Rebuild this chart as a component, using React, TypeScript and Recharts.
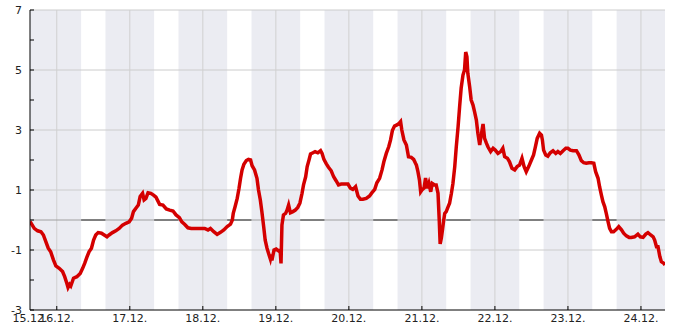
import React from 'react';
import { LineChart, Line, XAxis, YAxis, ReferenceArea, ReferenceLine } from 'recharts';

// hours since 15.12. 00:00
const hours = [
  15.2, 16.6, 17.7, 18.8, 19.6, 20.4, 21.2, 22.0, 22.9, 23.7, 24.8, 25.9, 26.6, 27.3, 27.7, 28.2, 28.6, 29.5,
  30.6, 31.7, 32.5, 33.2, 33.9, 34.6, 35.4, 36.1, 36.8, 37.6, 38.7, 39.6, 40.5, 41.2, 42.3, 43.4, 44.5, 45.6,
  46.7, 47.8, 48.6, 49.2, 50.0, 50.8, 51.4, 52.2, 52.7, 53.3, 54.0, 54.9, 55.8, 56.6, 57.8, 58.9, 60.0, 61.1,
  62.2, 63.2, 64.3, 65.1, 66.0, 67.1, 68.2, 69.3, 70.9, 72.6, 73.7, 74.5, 75.6, 76.7, 77.8, 78.9, 80.0, 81.1,
  81.7, 82.0, 82.6, 83.3, 83.9, 84.4, 84.9, 85.5, 86.3, 87.0, 87.7, 88.2, 89.0, 89.8, 90.3, 90.9, 91.4, 92.0,
  92.5, 93.1, 93.6, 94.2, 94.5, 94.7, 95.4, 96.1, 96.9, 97.4, 97.7, 98.0, 98.5, 99.2, 99.7, 100.2, 100.8,
  101.6, 102.4, 103.2, 103.9, 104.6, 105.1, 105.8, 106.3, 106.9, 107.4, 108.2, 108.9, 109.8, 110.7, 111.2,
  111.8, 112.6, 113.3, 114.2, 115.0, 115.8, 116.6, 117.5, 118.6, 119.7, 120.5, 121.3, 122.2, 123.0, 123.8,
  124.6, 125.7, 126.8, 127.6, 128.5, 129.2, 130.1, 130.9, 131.5, 132.3, 133.1, 133.7, 134.3, 135.0, 135.8,
  136.5, 137.0, 137.4, 138.1, 138.9, 139.6, 140.5, 141.3, 141.9, 142.2, 142.7, 143.2, 143.6, 144.0, 144.7,
  145.2, 145.8, 146.3, 146.9, 147.4, 148.2, 148.7, 149.3, 149.7, 150.0, 150.4, 150.8, 151.1, 151.5, 152.0,
  152.6, 153.1, 153.7, 154.2, 154.8, 155.3, 155.9, 156.4, 156.9, 157.5, 158.0, 158.4, 158.8, 159.1, 159.7,
  160.2, 160.8, 161.3, 161.9, 162.4, 163.0, 163.5, 164.1, 164.6, 165.2, 165.7, 166.6, 167.4, 168.1, 169.0,
  169.9, 170.6, 171.2, 172.1, 172.8, 173.6, 174.5, 175.3, 176.1, 176.9, 177.6, 178.3, 179.1, 180.0, 180.7,
  181.3, 181.9, 182.7, 183.3, 183.6, 184.0, 184.7, 185.4, 186.2, 187.1, 188.0, 188.7, 189.5, 190.4, 191.3,
  192.0, 192.8, 193.7, 194.8, 195.6, 196.4, 197.2, 198.0, 198.9, 199.7, 200.5, 201.1, 201.9, 202.4, 203.0,
  203.5, 204.1, 204.6, 205.2, 205.7, 206.3, 207.0, 207.9, 208.7, 209.6, 210.3, 211.2, 212.1, 212.8, 213.9,
  215.0, 215.8, 216.7, 217.6, 218.3, 219.2, 220.0, 220.5, 221.1, 221.6, 222.2, 222.7, 223.5, 223.9,
];

const values = [
  -0.05, -0.28, -0.36, -0.39, -0.5, -0.72, -0.94, -1.06, -1.33, -1.53, -1.61, -1.72, -1.89, -2.11, -2.25, -2.15, -2.2, -1.94,
  -1.89, -1.78, -1.61, -1.44, -1.24, -1.06, -0.94, -0.67, -0.5, -0.42, -0.44, -0.5, -0.56, -0.5, -0.42, -0.36, -0.28, -0.17,
  -0.11, -0.06, 0.06, 0.28, 0.39, 0.5, 0.78, 0.89, 0.67, 0.72, 0.91, 0.89, 0.83, 0.76, 0.52, 0.5, 0.37, 0.33,
  0.3, 0.17, 0.08, -0.06, -0.14, -0.26, -0.28, -0.28, -0.28, -0.28, -0.33, -0.28, -0.39, -0.48, -0.41, -0.33, -0.22, -0.14,
  0.0, 0.22, 0.44, 0.72, 1.06, 1.39, 1.67, 1.86, 1.98, 2.02, 2.0, 1.81, 1.67, 1.39, 1.0, 0.67, 0.28, -0.22,
  -0.67, -0.94, -1.11, -1.3, -1.15, -1.35, -1.0, -0.97, -1.03, -1.0, -1.45, -0.17, 0.17, 0.22, 0.33, 0.5, 0.24,
  0.28, 0.33, 0.42, 0.56, 0.89, 1.17, 1.44, 1.78, 2.0, 2.2, 2.24, 2.28, 2.24, 2.31, 2.22,
  2.02, 1.87, 1.76, 1.64, 1.44, 1.31, 1.17, 1.2, 1.2, 1.2, 1.06, 1.02, 1.11, 0.8, 0.69,
  0.69, 0.72, 0.8, 0.91, 1.02, 1.24, 1.39, 1.67, 1.94, 2.22, 2.44, 2.67, 2.98, 3.13, 3.17,
  3.22, 3.28, 3.0, 2.67, 2.5, 2.11, 2.09, 2.02, 1.89, 1.83, 1.61, 1.33, 0.94, 1.0, 1.06,
  1.4, 1.06, 1.22, 0.94, 1.22, 1.17, 1.17, 0.89, 0.0, -0.8, -0.6, -0.3, -0.06, 0.22, 0.28,
  0.44, 0.56, 0.89, 1.22, 1.78, 2.44, 3.11, 3.78, 4.39, 4.83, 5.0, 5.6, 5.44, 4.89, 4.44,
  4.0, 3.83, 3.61, 3.33, 2.89, 2.5, 2.83, 3.2, 2.72, 2.56, 2.44, 2.28, 2.39, 2.33, 2.22,
  2.28, 2.39, 2.11, 2.06, 1.94, 1.72, 1.67, 1.78, 1.83, 2.06, 1.78, 1.61, 1.78, 2.0, 2.17,
  2.44, 2.72, 2.89, 2.83, 2.67, 2.33, 2.17, 2.13, 2.24, 2.31, 2.22, 2.28, 2.22, 2.31, 2.39,
  2.39, 2.33, 2.31, 2.31, 2.17, 1.98, 1.91, 1.89, 1.91, 1.91, 1.89, 1.61, 1.39, 1.11, 0.83,
  0.61, 0.44, 0.22, -0.06, -0.28, -0.39, -0.39, -0.31, -0.22, -0.33, -0.44, -0.53, -0.58, -0.58, -0.56,
  -0.47, -0.56, -0.58, -0.47, -0.42, -0.5, -0.56, -0.67, -0.89, -0.89, -1.22, -1.39, -1.44, -1.5,
];

// shaded periods 16:00 - 08:00
const nightStarts = [15.2, 40, 64, 88, 112, 136, 160, 184, 208];
const nightEnds = [32, 56, 80, 104, 128, 152, 176, 200, 223.9];

const dayTicks = [15.2, 24, 48, 72, 96, 120, 144, 168, 192, 216];
const dayLines = [24, 48, 72, 96, 120, 144, 168, 192, 216];
const valueTicks = [-3, -2, -1, 0, 1, 2, 3, 4, 5, 6, 7];
const valueLines = [7, 5, 3, 1, -1];

const data = hours.map((h, i) => ({ h, v: values[i] }));

const font = { fontFamily: 'DejaVu Sans', fontSize: 11, fill: '#222' };

const dateLabel = (h: number) => `${15 + Math.floor(h / 24)}.12.`;

const YTick = (props: any) => {
  const { x, y, payload } = props;
  const v = payload.value;
  return (
    <g>
      <line x1={x} x2={x + 4} y1={y} y2={y} stroke='#000' />
      {Math.abs(v) % 2 === 1 && (
        <text x={x - 8} y={y} dy={4} textAnchor='end' {...font}>
          {v}
        </text>
      )}
    </g>
  );
};

const XTick = (props: any) => {
  const { x, y, payload, index } = props;
  return (
    <g>
      {index > 0 && <line x1={x} x2={x} y1={y} y2={y - 4} stroke='#000' />}
      <text x={x} y={y} dy={12} textAnchor='middle' {...font}>
        {dateLabel(payload.value)}
      </text>
    </g>
  );
};

export default function App() {
  return (
    <div style={{ position: 'absolute', left: 0, top: 0 }}>
      <LineChart
        width={685}
        height={330}
        data={data}
        margin={{ top: 10, right: 20, bottom: 0, left: 0 }}
      >
        {nightStarts.map((s, i) => (
          <ReferenceArea
            key={'n' + i}
            x1={s}
            x2={nightEnds[i]}
            y1={-3}
            y2={7}
            fill='#ebecf2'
            fillOpacity={1}
            stroke='none'
          />
        ))}
        {valueLines.map((v) => (
          <ReferenceLine key={'gy' + v} y={v} stroke='#cccccc' />
        ))}
        {dayLines.map((d) => (
          <ReferenceLine key={'gx' + d} x={d} stroke='#d0d0d0' />
        ))}
        {nightStarts.map((s, i) => (
          <ReferenceLine
            key={'zg' + i}
            segment={[{ x: s, y: 0 }, { x: nightEnds[i], y: 0 }]}
            stroke='#a0a0a0'
          />
        ))}
        {nightEnds.slice(0, -1).map((e, i) => (
          <ReferenceLine
            key={'zb' + i}
            segment={[{ x: e, y: 0 }, { x: nightStarts[i + 1], y: 0 }]}
            stroke='#000'
          />
        ))}
        <XAxis
          dataKey='h'
          type='number'
          domain={[15.2, 223.9]}
          ticks={dayTicks}
          interval={0}
          allowDataOverflow
          height={20}
          tickSize={0}
          tickMargin={0}
          tickLine={false}
          axisLine={{ stroke: '#000' }}
          tick={<XTick />}
        />
        <YAxis
          type='number'
          domain={[-3, 7]}
          ticks={valueTicks}
          interval={0}
          width={30}
          tickSize={0}
          tickMargin={0}
          tickLine={false}
          axisLine={{ stroke: '#000' }}
          tick={<YTick />}
        />
        <Line
          type='linear'
          dataKey='v'
          stroke='#d40000'
          strokeWidth={3.5}
          dot={false}
          isAnimationActive={false}
        />
      </LineChart>
    </div>
  );
}
